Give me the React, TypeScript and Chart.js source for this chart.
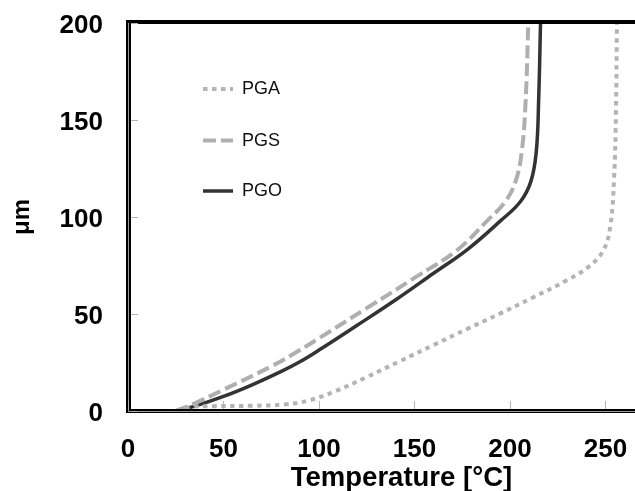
import React, { useEffect, useRef } from "react";
import { Chart, registerables } from "chart.js";

Chart.register(...registerables);

const seriesLabels = ["PGA", "PGS", "PGO"];

const pgaTemp = [25.5, 32, 45, 65, 82, 95, 108, 125, 142, 160, 178, 195, 212, 230, 242, 249, 252.5, 254.5, 255.5, 256];
const pgaDepth = [0, 2, 2.5, 2.7, 3.4, 5.5, 10, 17.5, 25.5, 34, 42.5, 50.3, 58.5, 67.5, 75, 83, 95, 120, 155, 200];

const pgsTemp = [25, 35, 50, 75, 90, 100, 125, 150, 172.4, 188, 197.6, 203, 206.2, 208.2, 209.6];
const pgsDepth = [0, 4, 11, 23, 31.4, 37.5, 53, 68.6, 83, 98, 108, 118.5, 134, 160, 200];

const pgoTemp = [25, 35, 50, 65, 80, 90, 100, 120, 140, 160, 178, 195, 205.5, 211, 213.8, 215, 216];
const pgoDepth = [0, 2.5, 7.5, 13.5, 20.3, 25.4, 31.4, 44.2, 57.2, 71, 83.5, 98, 108, 118.5, 134, 160, 200];

const xTicks = [0, 50, 100, 150, 200, 250];
const yTicks = [0, 50, 100, 150, 200];

const xTitle = "Temperature [°C]";
const yTitle = "μm";

const FONT = "'Liberation Sans', Arial, sans-serif";

const toPoints = (xs: number[], ys: number[]) => xs.map((x, i) => ({ x, y: ys[i] }));

const zeroPad = (s: any) => {
  s.paddingTop = 0;
  s.paddingBottom = 0;
  s.paddingLeft = 0;
  s.paddingRight = 0;
};

const framePlugin = {
  id: "frameAndLegend",
  afterDatasetsDraw(chart: any) {
    const { ctx, chartArea, scales } = chart;
    const { left, top, right, bottom } = chartArea;
    const xs = scales.x;
    const ys = scales.y;
    ctx.save();
    // frame
    ctx.fillStyle = "#000";
    ctx.fillRect(left - 2, top - 3, right - left + 2, 4); // top
    ctx.fillRect(left - 2, top - 3, 5, bottom - top + 5); // left
    ctx.fillRect(left - 2, bottom - 2, right - left + 2, 4); // bottom
    ctx.fillStyle = "#9a9a9a";
    ctx.fillRect(left, top, 1, bottom - top);
    ctx.fillRect(left, bottom, right - left, 1);
    // inward tick marks
    ctx.strokeStyle = "#b4b4b4";
    ctx.lineWidth = 1;
    ctx.beginPath();
    for (const v of xTicks) {
      const px = Math.round(xs.getPixelForValue(v)) + 0.5;
      ctx.moveTo(px, bottom - 2);
      ctx.lineTo(px, bottom - 10);
    }
    for (const v of yTicks) {
      const py = Math.round(ys.getPixelForValue(v)) + 0.5;
      ctx.moveTo(left + 3, py);
      ctx.lineTo(left + 10, py);
    }
    ctx.stroke();
    // legend
    const legendX = 203;
    const legendY = [89, 140.5, 191];
    chart.data.datasets.forEach((ds: any, i: number) => {
      const y = legendY[i];
      ctx.save();
      ctx.strokeStyle = ds.borderColor;
      ctx.lineWidth = ds.borderWidth;
      ctx.lineCap = "butt";
      ctx.setLineDash(ds.borderDash || []);
      ctx.beginPath();
      ctx.moveTo(legendX, y);
      ctx.lineTo(legendX + 30, y);
      ctx.stroke();
      ctx.restore();
      ctx.fillStyle = "#111";
      ctx.font = `18px ${FONT}`;
      ctx.textBaseline = "middle";
      ctx.textAlign = "left";
      ctx.fillText(ds.label, legendX + 39, y + 0.5);
    });
    ctx.restore();
  },
};

export default function App() {
  const ref = useRef<HTMLCanvasElement | null>(null);

  useEffect(() => {
    if (!ref.current) return;
    const common = {
      borderCapStyle: "butt",
      pointRadius: 0,
      fill: false,
      tension: 0.4,
    };
    const chart = new Chart(ref.current, {
      type: "line",
      data: {
        datasets: [
          {
            ...common,
            label: seriesLabels[0],
            data: toPoints(pgaTemp, pgaDepth),
            borderColor: "#b4b4b4",
            borderWidth: 4,
            borderDash: [4.5, 4.5],
          },
          {
            ...common,
            label: seriesLabels[1],
            data: toPoints(pgsTemp, pgsDepth),
            borderColor: "#afafaf",
            borderWidth: 4,
            borderDash: [13, 5],
          },
          {
            ...common,
            label: seriesLabels[2],
            data: toPoints(pgoTemp, pgoDepth),
            borderColor: "#333333",
            borderWidth: 3.5,
          },
        ],
      },
      options: {
        responsive: false,
        animation: false,
        layout: { padding: { top: 23, right: 0, left: 0, bottom: 0 } },
        plugins: {
          legend: { display: false },
          tooltip: { enabled: false },
        },
        scales: {
          x: {
            type: "linear",
            position: "bottom",
            min: 0,
            max: 286.4,
            grid: { display: false, drawTicks: false },
            border: { display: false },
            afterBuildTicks: (s: any) => {
              s.ticks = xTicks.map((v) => ({ value: v }));
            },
            afterFit: (s: any) => {
              s.height = 80;
              zeroPad(s);
            },
            ticks: {
              padding: 23,
              color: "#000",
              maxRotation: 0,
              autoSkip: false,
              font: { family: FONT, size: 26, weight: "bold" },
            },
            title: {
              display: true,
              text: xTitle,
              color: "#000",
              padding: { top: 0, bottom: 0 },
              font: { family: FONT, size: 27.5, weight: "bold", lineHeight: 0.94 },
            },
          },
          y: {
            type: "linear",
            min: 0,
            max: 200,
            grid: { display: false, drawTicks: false },
            border: { display: false },
            afterBuildTicks: (s: any) => {
              s.ticks = yTicks.map((v) => ({ value: v }));
            },
            afterFit: (s: any) => {
              s.width = 128;
              zeroPad(s);
            },
            ticks: {
              padding: 25,
              color: "#000",
              labelOffset: 3,
              autoSkip: false,
              font: { family: FONT, size: 26, weight: "bold" },
            },
            title: {
              display: true,
              text: yTitle,
              color: "#000",
              padding: { top: 10, bottom: 0 },
              font: { family: FONT, size: 24, weight: "bold", lineHeight: 1 },
            },
          },
        },
      },
      plugins: [framePlugin],
    } as any);
    return () => chart.destroy();
  }, []);

  return (
    <div style={{ position: "absolute", left: 0, top: 0, width: 635, height: 491, overflow: "hidden", background: "#fff" }}>
      <canvas ref={ref} width={675} height={491} style={{ display: "block", width: 675, height: 491 }} />
    </div>
  );
}
